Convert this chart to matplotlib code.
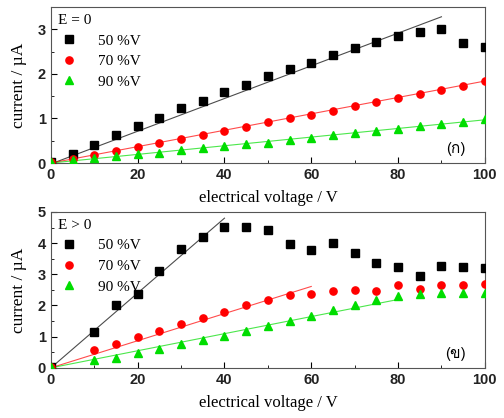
import matplotlib
matplotlib.use("Agg")
import matplotlib.pyplot as plt
from matplotlib import font_manager
from matplotlib.ticker import MultipleLocator
import numpy as np

# ── Data ──────────────────────────────────────────────────────────────────────
volts_top = [0, 5, 10, 15, 20, 25, 30, 35, 40, 45, 50, 55, 60, 65, 70, 75, 80, 85, 90, 95, 100]
top_50 = [0.02, 0.20, 0.40, 0.63, 0.82, 1.02, 1.23, 1.40, 1.60, 1.76, 1.95, 2.10, 2.25, 2.42,
          2.58, 2.72, 2.85, 2.95, 3.00, 2.70, 2.60]
top_70 = [0.02, 0.10, 0.19, 0.28, 0.36, 0.45, 0.55, 0.63, 0.72, 0.81, 0.91, 1.00, 1.08, 1.17,
          1.27, 1.37, 1.46, 1.55, 1.65, 1.74, 1.84]
top_90 = [0.02, 0.07, 0.12, 0.15, 0.20, 0.23, 0.29, 0.34, 0.38, 0.43, 0.46, 0.52, 0.57, 0.62,
          0.67, 0.72, 0.77, 0.82, 0.87, 0.93, 0.98]

volts_bot = [0, 10, 15, 20, 25, 30, 35, 40, 45, 50, 55, 60, 65, 70, 75, 80, 85, 90, 95, 100]
bot_50 = [0.02, 1.15, 2.02, 2.36, 3.11, 3.81, 4.18, 4.53, 4.51, 4.41, 3.97, 3.79, 3.99, 3.68,
          3.37, 3.24, 2.93, 3.28, 3.23, 3.21]
bot_70 = [0.02, 0.57, 0.78, 1.00, 1.19, 1.42, 1.61, 1.80, 2.00, 2.17, 2.32, 2.38, 2.46, 2.49,
          2.46, 2.65, 2.53, 2.65, 2.65, 2.68]
bot_90 = [0.02, 0.25, 0.32, 0.49, 0.62, 0.75, 0.89, 1.03, 1.18, 1.35, 1.51, 1.66, 1.85, 2.00,
          2.16, 2.30, 2.37, 2.41, 2.41, 2.41]

# linear fits: (x start, x end, slope, intercept)
fits_top = [(0, 90, 0.0367, -0.02), (0, 100, 0.0184, 0.0), (0, 100, 0.0097, 0.0)]
fits_bot = [(0, 40, 0.120, 0.0), (0, 60, 0.0435, 0.0), (0, 80, 0.0274, 0.0)]

labels = ["50 %V", "70 %V", "90 %V"]

# ── Style ─────────────────────────────────────────────────────────────────────
COLORS  = ["black", "#ff0000", "#00dd00"]
MARKERS = ["s", "o", "^"]
SERIF   = ["Liberation Serif", "DejaVu Serif"]
SANS    = ["Liberation Sans", "DejaVu Sans"]


def _thai_family():
    """Find an installed font that has Thai glyphs, if any."""
    for f in font_manager.fontManager.ttflist:
        try:
            ft = matplotlib.ft2font.FT2Font(f.fname)
            if ft.get_char_index(ord("ก")) and ft.get_char_index(ord("ข")):
                return f.name
        except Exception:
            continue
    return None


thai = _thai_family()
PANEL_FAMILY = ([thai] if thai else []) + SANS

plt.rcParams["font.family"] = SANS
plt.rcParams["axes.edgecolor"] = "#555555"


def draw_panel(ax, x, series, fits, ylim, ymajor, title, tag):
    for y, (x0, x1, m, b), col, mk, lab in zip(series, fits, COLORS, MARKERS, labels):
        ax.plot(x, y, ls="none", marker=mk, color=col, ms=5.2 if mk != "^" else 6,
                mec=col, label=lab, zorder=3)
        xs = np.array([x0, x1])
        ax.plot(xs, m * xs + b, color=col, lw=0.8, alpha=0.7, zorder=2)

    ax.set_xlim(0, 100)
    ax.set_ylim(*ylim)
    ax.xaxis.set_major_locator(MultipleLocator(20))
    ax.xaxis.set_minor_locator(MultipleLocator(10))
    ax.yaxis.set_major_locator(MultipleLocator(ymajor))
    ax.yaxis.set_minor_locator(MultipleLocator(ymajor / 2))
    ax.tick_params(which="both", direction="in", top=False, right=False)
    ax.tick_params(which="major", length=4, labelsize=10.5)
    ax.tick_params(which="minor", length=2)
    for t in ax.get_xticklabels() + ax.get_yticklabels():
        t.set_fontweight("bold")
        t.set_color("#222222")

    ax.set_xlabel("electrical voltage / V", family=SERIF, fontsize=12, labelpad=6)
    ax.set_ylabel("current / µA", family=SERIF, fontsize=12.5, labelpad=8)

    leg = ax.legend(loc="upper left", frameon=False, title=title,
                    prop={"family": SERIF, "size": 11}, handletextpad=1.1,
                    borderaxespad=0.15, borderpad=0.3, labelspacing=0.45,
                    handlelength=1.5)
    leg.get_title().set_family(SERIF)
    leg.get_title().set_fontsize(11)
    leg._legend_box.align = "left"

    ax.text(0.955, 0.09, tag, transform=ax.transAxes, ha="right", va="center",
            fontsize=11, family=PANEL_FAMILY)


fig = plt.figure(figsize=(5.04, 4.18), dpi=100)
ax1 = fig.add_axes([0.101, 0.610, 0.861, 0.373])
ax2 = fig.add_axes([0.101, 0.120, 0.861, 0.373])

draw_panel(ax1, volts_top, [top_50, top_70, top_90], fits_top, (0, 3.5), 1, "E = 0", "(ก)")
draw_panel(ax2, volts_bot, [bot_50, bot_70, bot_90], fits_bot, (0, 5), 1, "E > 0", "(ข)")

fig.savefig("out.png", dpi=100)
